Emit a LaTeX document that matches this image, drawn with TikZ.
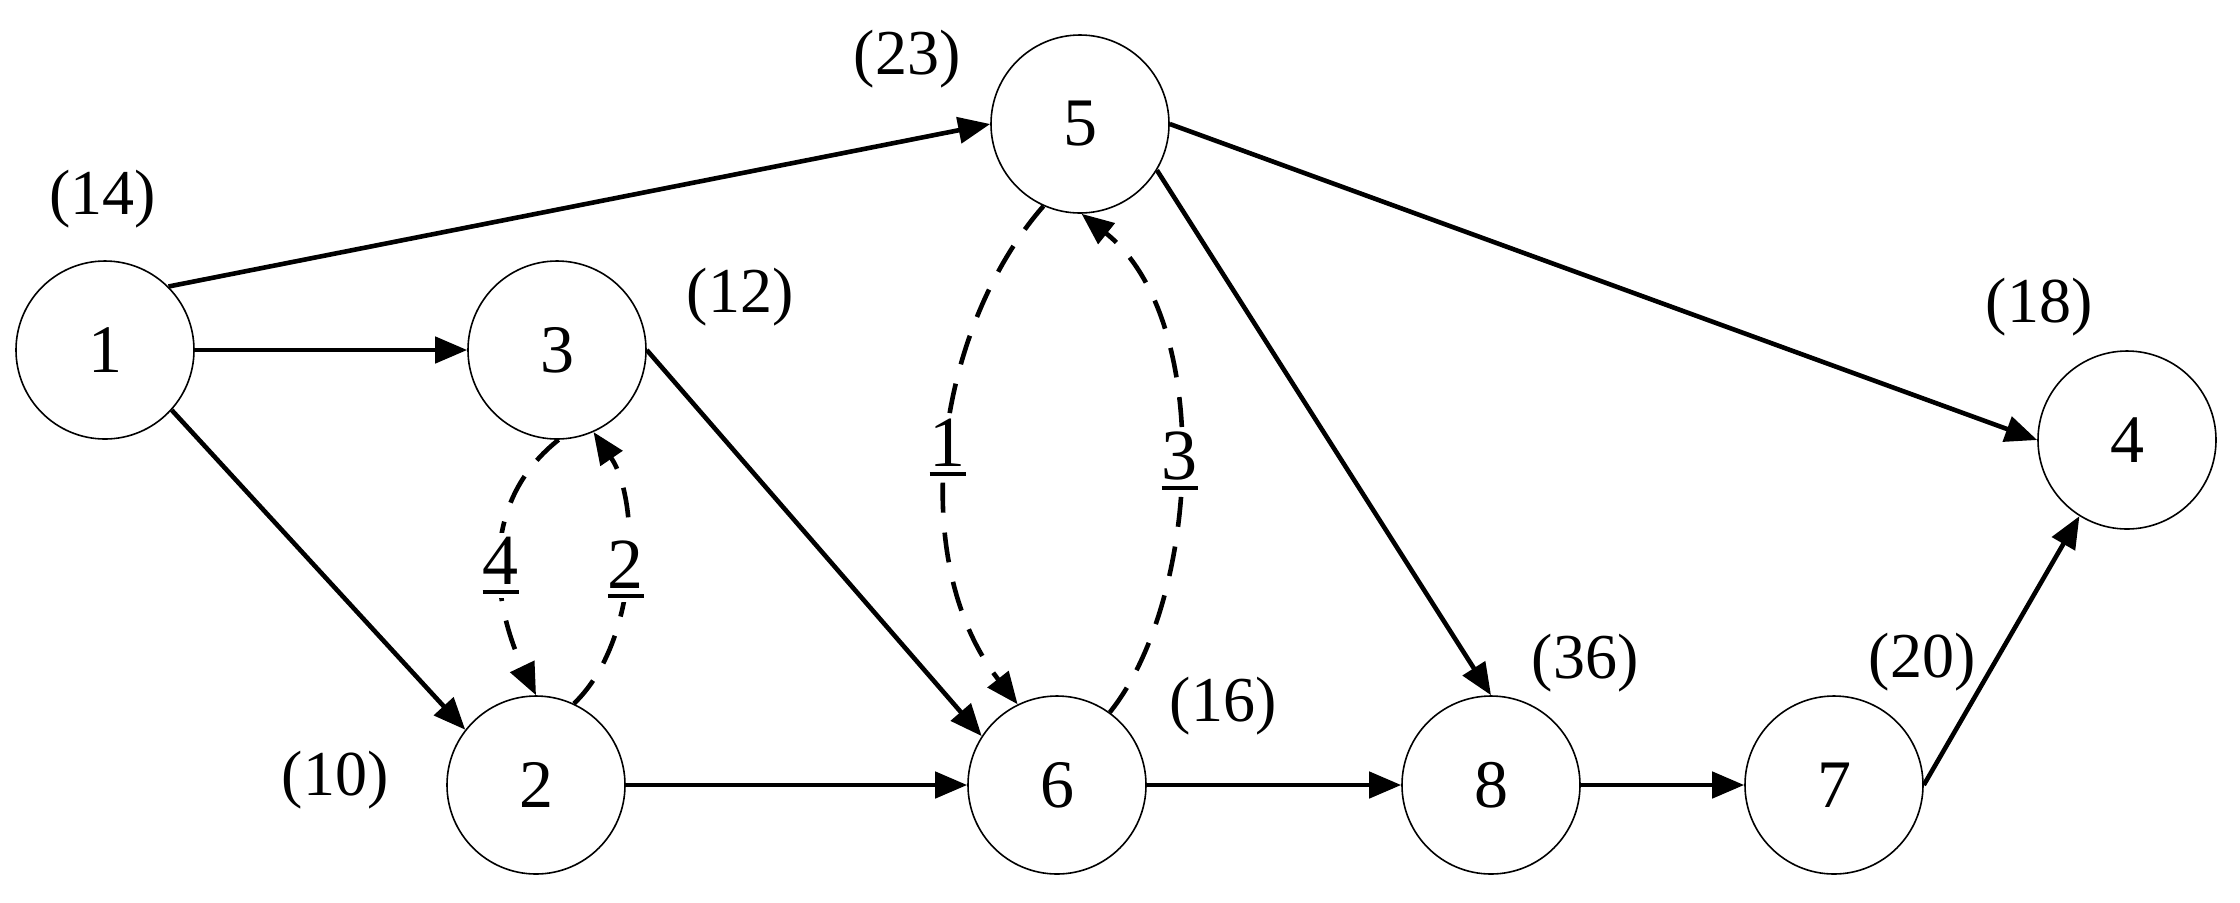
\documentclass[tikz,border=0pt]{standalone}
\usepackage{fontspec}
\setmainfont{Liberation Serif}
\usetikzlibrary{arrows.meta}
\newcommand{\ulnum}[1]{\setbox0\hbox{#1}\rlap{\copy0}\raisebox{-5pt}{\rule{\wd0}{2pt}}}
\begin{document}
\begin{tikzpicture}[x=0.5pt,y=-0.5pt,
  vtx/.style={circle,draw,line width=0.8pt,minimum size=89pt,inner sep=0pt,font=\fontsize{34}{38}\selectfont},
  lbl/.style={inner sep=0pt,font=\fontsize{32}{36}\selectfont},
  arr/.style={line width=2.3pt,-{Triangle[length=16pt,width=13pt]}},
  dsh/.style={arr,dash pattern=on 15pt off 10pt},
  wl/.style={fill=white,inner sep=2pt,font=\fontsize{36}{40}\selectfont}]
\useasboundingbox (0,0) rectangle (2240,902);
% vertices
\node[vtx] (n1) at (105,350) {1};
\node[vtx] (n3) at (557,350) {3};
\node[vtx] (n5) at (1080,124) {5};
\node[vtx] (n4) at (2127,440) {4};
\node[vtx] (n2) at (536,785) {2};
\node[vtx] (n6) at (1057,785) {6};
\node[vtx] (n8) at (1491,785) {8};
\node[vtx] (n7) at (1834,785) {7};
% weights
\node[lbl] (w1) at (103,199) {(14)};
\node[lbl] (w5) at (907,59) {(23)};
\node[lbl] (w3) at (740,297) {(12)};
\node[lbl] (w4) at (2039,307) {(18)};
\node[lbl] (w2) at (335,780) {(10)};
\node[lbl] (w6) at (1223,706) {(16)};
\node[lbl] (w8) at (1585,663) {(36)};
\node[lbl] (w7) at (1922,662) {(20)};
% solid arcs
\draw[arr] (n1.45) -- (n5.west);
\draw[arr] (n1.east) -- (n3.west);
\draw[arr] (n1.-42) -- (n2.142);
\draw[arr] (n3.east) -- (n6.147);
\draw[arr] (n2.east) -- (n6.west);
\draw[arr] (n6.east) -- (n8.west);
\draw[arr] (n8.east) -- (n7.west);
\draw[arr] (n7.east) -- (n4.-122);
\draw[arr] (n5.east) -- (n4.west);
\draw[arr] (n5.-31) -- (n8.north);
% dashed arcs
\draw[dsh] (n3.-89) .. controls (470,510) and (500,620) .. node[wl,pos=0.5] {\ulnum{4}} (n2.north);
\draw[dsh] (n2.65) .. controls (640,640) and (640,500) .. node[wl,pos=0.5] {\ulnum{2}} (n3.-66);
\draw[dsh] (n5.-114) .. controls (935,330) and (905,560) .. node[wl,pos=0.5] {\ulnum{1}} (n6.116);
\draw[dsh] (n6.54) .. controls (1200,600) and (1215,320) .. node[wl,pos=0.5] {\ulnum{3}} (n5.-89);
\end{tikzpicture}
\end{document}
